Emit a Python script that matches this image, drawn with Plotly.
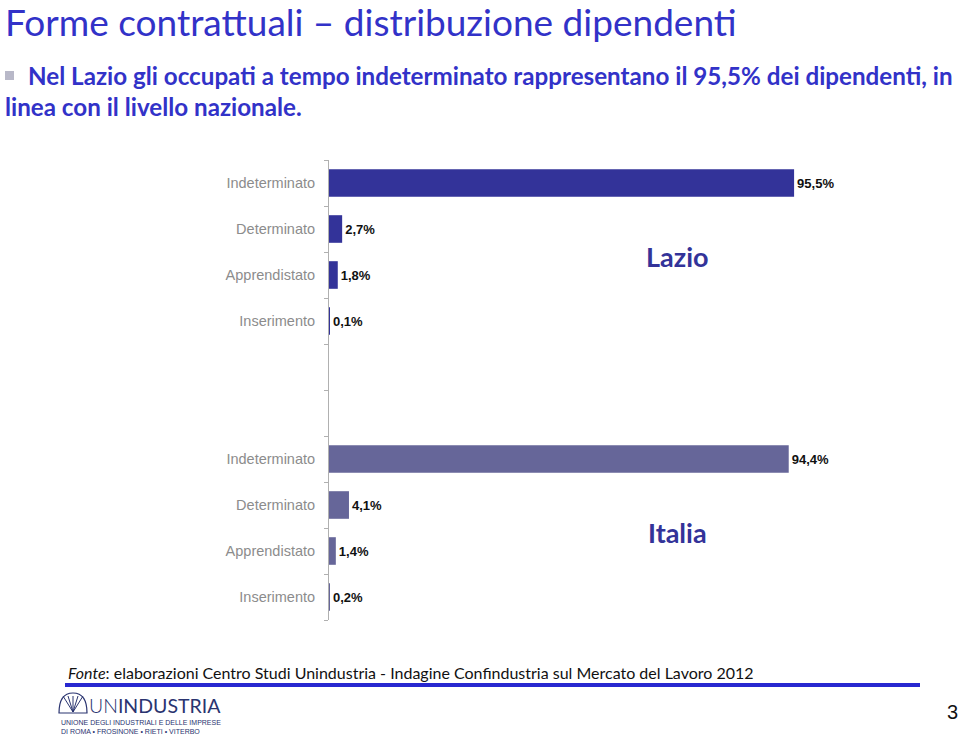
import plotly.graph_objects as go

# ---------------- data ----------------
categories = ["Indeterminato", "Determinato", "Apprendistato", "Inserimento"]
lazio_values = [95.5, 2.7, 1.8, 0.1]
italia_values = [94.4, 4.1, 1.4, 0.2]
group_names = ["Lazio", "Italia"]
gap_slots = 2  # empty category slots between the two groups

title_text = "Forme contrattuali \u2013 distribuzione dipendenti"
subtitle_line1 = "Nel Lazio gli occupati a tempo indeterminato rappresentano il 95,5% dei dipendenti, in"
subtitle_line2 = "linea con il livello nazionale."
source_text = "<i>Fonte</i>: elaborazioni Centro Studi Unindustria - Indagine Confindustria sul Mercato del Lavoro 2012"
logo_sub1 = "UNIONE DEGLI INDUSTRIALI E DELLE IMPRESE"
logo_sub2 = "DI ROMA \u2022 FROSINONE \u2022 RIETI \u2022 VITERBO"

# ---------------- layout geometry ----------------
FIG_W, FIG_H = 960, 740
L, W = 329, 487
T, H = 160, 460
R = FIG_W - L - W
B = FIG_H - T - H


def px(x):
    return (x - L) / W


def py(y):
    return 1 - (y - T) / H


def fmt(v):
    return "<b>" + f"{v:.1f}".replace(".", ",") + "%</b>"


n = len(categories)
lazio_pos = list(range(n))
italia_pos = [n + gap_slots + i for i in range(n)]
total_slots = 2 * n + gap_slots

label_font = dict(family="Liberation Sans, Arial", size=13, color="#111111")

fig = go.Figure()
fig.add_trace(go.Bar(
    y=lazio_pos, x=lazio_values, orientation="h", width=0.6,
    marker=dict(color="#333399", line=dict(width=0)),
    text=[fmt(v) for v in lazio_values], textposition="outside",
    textfont=label_font, cliponaxis=False, showlegend=False, name="Lazio"))
fig.add_trace(go.Bar(
    y=italia_pos, x=italia_values, orientation="h", width=0.6,
    marker=dict(color="#666699", line=dict(width=0)),
    text=[fmt(v) for v in italia_values], textposition="outside",
    textfont=label_font, cliponaxis=False, showlegend=False, name="Italia"))

fig.update_layout(
    width=FIG_W, height=FIG_H,
    margin=dict(l=L, r=R, t=T, b=B, pad=0),
    paper_bgcolor="white", plot_bgcolor="white",
    barmode="overlay",
    xaxis=dict(range=[0, 100], visible=False, fixedrange=True),
    yaxis=dict(
        range=[total_slots - 0.5, -0.5],
        tickmode="array",
        tickvals=lazio_pos + italia_pos,
        ticktext=categories + categories,
        ticks="", ticklabelstandoff=10,
        tickfont=dict(family="Liberation Sans, Arial", size=14.5, color="#8c8c8c"),
        showline=True, linecolor="#b0b0b0", linewidth=1,
        showgrid=False, zeroline=False, fixedrange=True,
        minor=dict(tickmode="array",
                   tickvals=[i - 0.5 for i in range(total_slots + 1)],
                   ticks="outside", ticklen=4, tickcolor="#b0b0b0", tickwidth=1,
                   showgrid=False),
    ),
)

ann = []
# title
ann.append(dict(text=title_text, x=px(3), y=py(21), xref="paper", yref="paper",
                xanchor="left", yanchor="middle", showarrow=False,
                font=dict(family="Lato, Open Sans", size=37, color="#3232c8")))
# bullet square
fig.add_shape(type="rect", xref="paper", yref="paper",
              x0=px(5), x1=px(14), y0=py(71), y1=py(80),
              fillcolor="#b8b8c8", line=dict(width=0))
ann.append(dict(text="<b>" + subtitle_line1 + "</b>", x=px(26), y=py(76), xref="paper", yref="paper",
                xanchor="left", yanchor="middle", showarrow=False,
                font=dict(family="Lato, Open Sans", size=24.2, color="#3232c8")))
ann.append(dict(text="<b>" + subtitle_line2 + "</b>", x=px(3), y=py(107), xref="paper", yref="paper",
                xanchor="left", yanchor="middle", showarrow=False,
                font=dict(family="Lato, Open Sans", size=24.2, color="#3232c8")))
# group labels
for name, pos in zip(group_names, [lazio_pos, italia_pos]):
    mid = (pos[1] + pos[2]) / 2 + 0.1
    ann.append(dict(text="<b>" + name + "</b>", x=px(677), y=mid, xref="paper", yref="y",
                    xanchor="center", yanchor="middle", showarrow=False,
                    font=dict(family="Lato, DejaVu Sans", size=27, color="#333399")))
# source
ann.append(dict(text=source_text, x=px(66), y=py(672), xref="paper", yref="paper",
                xanchor="left", yanchor="middle", showarrow=False,
                font=dict(family="Lato, Open Sans", size=16, color="#111111")))
fig.add_shape(type="line", xref="paper", yref="paper",
              x0=px(65), x1=px(920), y0=py(685), y1=py(685),
              line=dict(color="#2828d0", width=4))
# logo (text rendition)
ann.append(dict(text="<span style='font-weight:300'>UN</span>INDUSTRIA", x=px(87), y=py(705), xref="paper", yref="paper",
                xanchor="left", yanchor="middle", showarrow=False,
                font=dict(family="Lato, Open Sans", size=19.5, color="#2a3470")))
ann.append(dict(text=logo_sub1, x=px(59), y=py(722), xref="paper", yref="paper",
                xanchor="left", yanchor="middle", showarrow=False,
                font=dict(family="Liberation Sans", size=7, color="#2a3470")))
ann.append(dict(text=logo_sub2, x=px(59), y=py(731), xref="paper", yref="paper",
                xanchor="left", yanchor="middle", showarrow=False,
                font=dict(family="Liberation Sans", size=7, color="#2a3470")))
# emblem (simple fan shape)
fig.add_shape(type="path", xref="paper", yref="paper",
              path=(f"M {px(59)},{py(713)} Q {px(59)},{py(693)} {px(73)},{py(693)} "
                    f"Q {px(87)},{py(693)} {px(87)},{py(713)} Z"),
              fillcolor="white", line=dict(color="#2a3470", width=1.2))
for xs in [63, 68, 73, 78, 83]:
    fig.add_shape(type="line", xref="paper", yref="paper",
                  x0=px(73), y0=py(712), x1=px(xs), y1=py(696),
                  line=dict(color="#2a3470", width=1))
# page number
ann.append(dict(text="3", x=px(952), y=py(712), xref="paper", yref="paper",
                xanchor="center", yanchor="middle", showarrow=False,
                font=dict(family="Liberation Sans, Arial", size=20, color="#111111")))

fig.update_layout(annotations=ann)
fig.write_html("out.html", config={"displayModeBar": False},
               post_script="document.body.style.margin='0';document.body.style.padding='0';document.body.style.overflow='hidden';")
